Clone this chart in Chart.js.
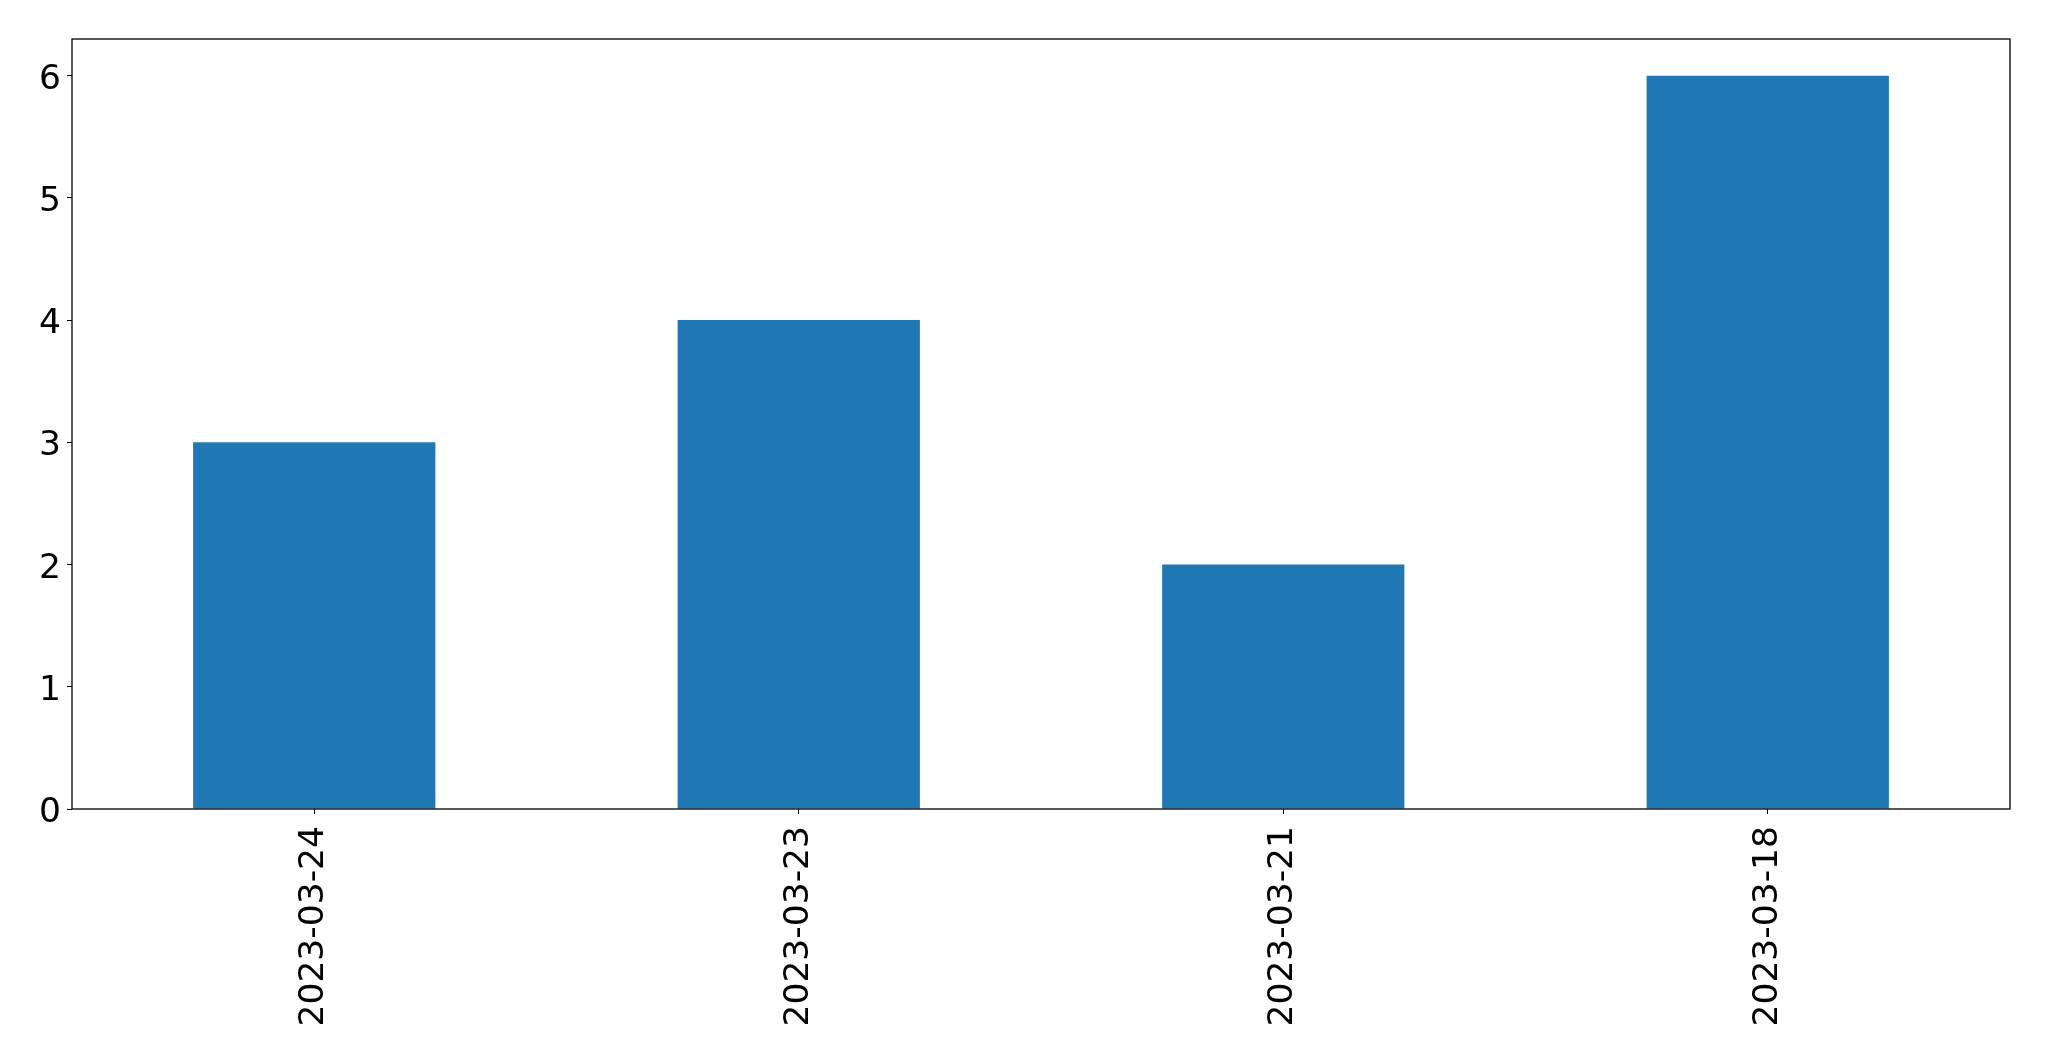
<!DOCTYPE html>
<html>
<head>
<meta charset="utf-8">
<script src="https://cdn.jsdelivr.net/npm/chart.js@4.4.1/dist/chart.umd.min.js"></script>
<style>
  html, body { margin: 0; padding: 0; background: #fff; }
  #wrap { width: 2049px; height: 1061px; }
</style>
</head>
<body>
<div id="wrap"><canvas id="chart" width="2049" height="1061"></canvas></div>
<script>
const dates = ['2023-03-24', '2023-03-23', '2023-03-21', '2023-03-18'];
const counts = [3, 4, 2, 6];

const frame = {
  id: 'frame',
  afterDraw(chart) {
    const { ctx, chartArea: a } = chart;
    ctx.save();
    ctx.strokeStyle = '#000';
    ctx.lineWidth = 1.3;
    ctx.strokeRect(a.left, a.top, a.right - a.left, a.bottom - a.top);
    ctx.restore();
  }
};

Chart.defaults.font.family = '"DejaVu Sans", sans-serif';
Chart.defaults.color = '#000';

new Chart(document.getElementById('chart'), {
  type: 'bar',
  data: {
    labels: dates,
    datasets: [{
      data: counts,
      backgroundColor: '#1f77b4',
      categoryPercentage: 1,
      barPercentage: 0.5,
    }],
  },
  options: {
    responsive: false,
    animation: false,
    layout: { padding: { top: 39, right: 39, left: 0, bottom: 0 } },
    plugins: { legend: { display: false }, tooltip: { enabled: false } },
    scales: {
      x: {
        grid: { display: true, drawOnChartArea: false, drawTicks: true, tickLength: 5, color: '#000', offset: false },
        border: { display: false },
        ticks: { font: { size: 34.5 }, maxRotation: 90, minRotation: 90, padding: 12 },
        afterFit(s) { s.height = 252; },
      },
      y: {
        min: 0, max: 6.3,
        grid: { display: true, drawOnChartArea: false, drawTicks: true, tickLength: 5, color: '#000' },
        border: { display: false },
        ticks: { font: { size: 34.5 }, stepSize: 1, includeBounds: false, padding: 6, labelOffset: 4 },
        afterFit(s) { s.width = 72; },
      },
    },
  },
  plugins: [frame],
});
</script>
</body>
</html>
